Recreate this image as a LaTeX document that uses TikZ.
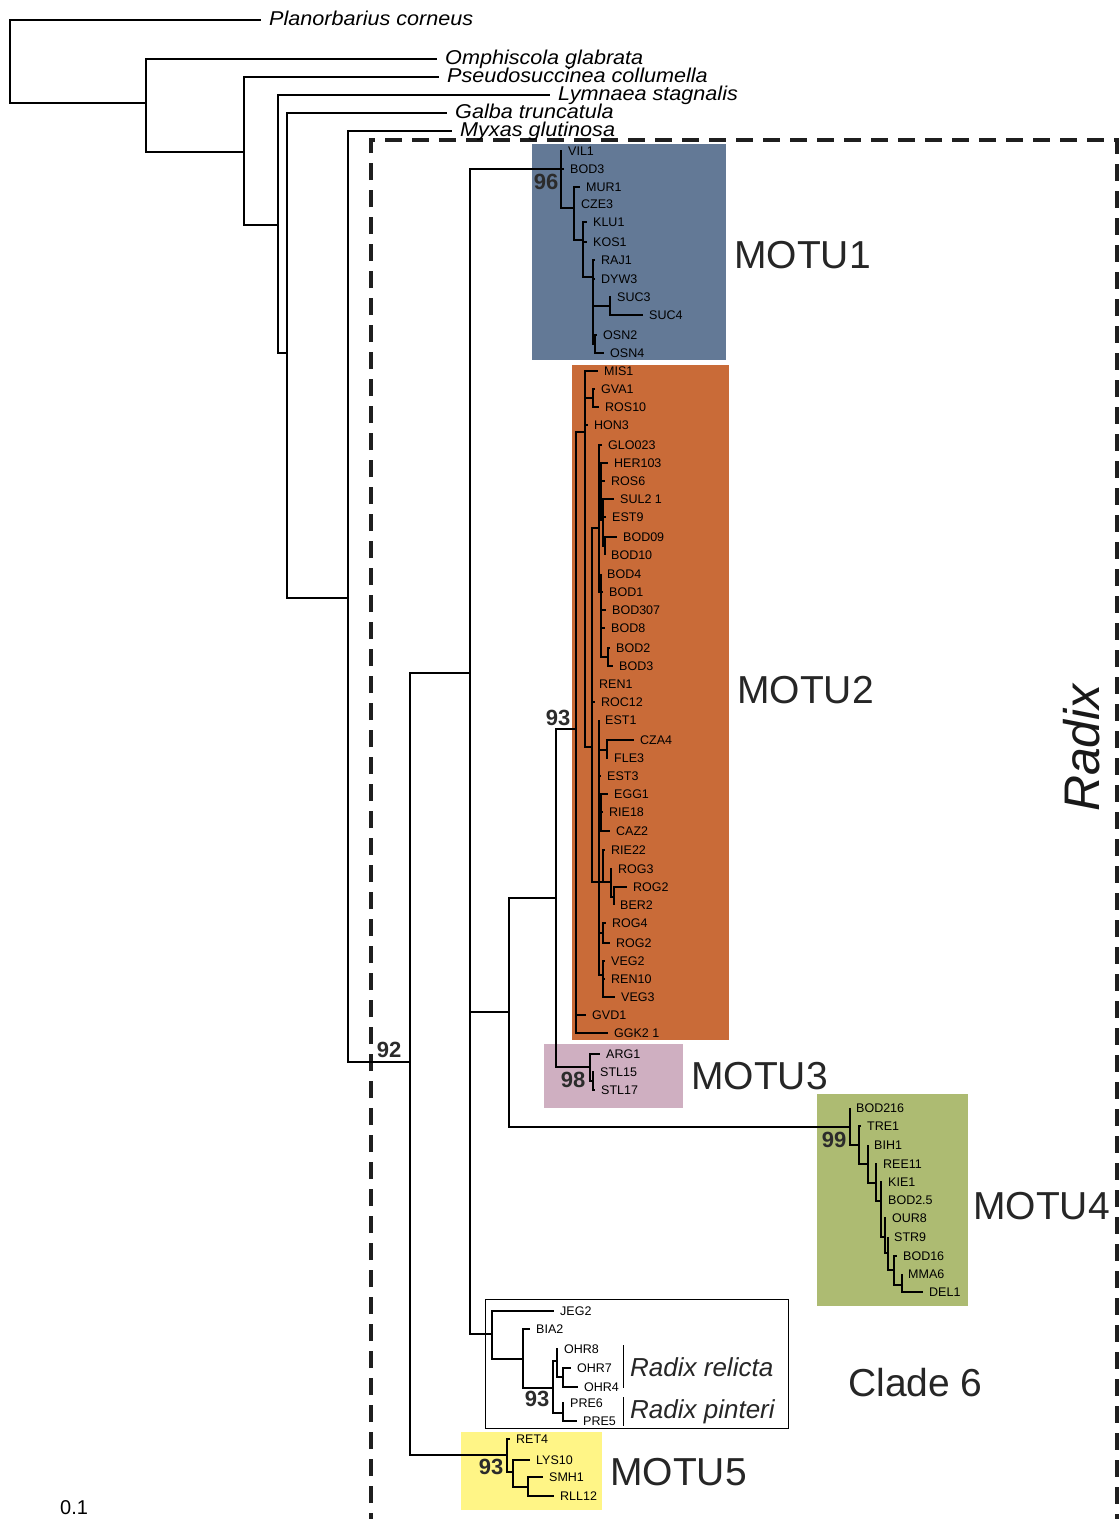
\documentclass[tikz,border=0pt]{standalone}
\usepackage{fontspec}
\setmainfont{Liberation Sans}
\newfontfamily\speciesfont[FakeStretch=1.08]{Liberation Sans}
\definecolor{motuone}{HTML}{637996}
\definecolor{motutwo}{HTML}{C96B38}
\definecolor{motuthree}{HTML}{CFAFC1}
\definecolor{motufour}{HTML}{ADBB72}
\definecolor{motufive}{HTML}{FFF586}
\definecolor{inkgrey}{HTML}{2B2B2B}
\begin{document}
\begin{tikzpicture}[
  x = 1pt, y = -1pt,
  every node/.style = {inner sep=0pt},
  tip/.style = {anchor=west, inner xsep=6pt, inner ysep=1pt, font=\fontsize{12.5}{14}\selectfont},
  species/.style = {tip, inner xsep=8pt, text height=14.5pt, text depth=4pt, font=\speciesfont\itshape\fontsize{20}{22}\selectfont},
  support/.style = {font=\bfseries\fontsize{22}{24}\selectfont, text=inkgrey},
  motu/.style = {anchor=west, font=\fontsize{39}{42}\selectfont, text=black!85},
  taxon/.style = {anchor=west, font=\itshape\fontsize{26}{28}\selectfont, text=black!85},
  branch/.style = {draw, line width=1.3pt},
]

\useasboundingbox (0,0) rectangle (1119,1519);

% coloured MOTU patches go first so the tree sits on top of them
\fill[motuone]   (532,144)  rectangle (726,360);
\fill[motutwo]   (572,365)  rectangle (729,1040);
\fill[motuthree] (544,1044) rectangle (683,1108);
\fill[motufour]  (817,1094) rectangle (968,1306);
\fill[motufive]  (461,1432) rectangle (602,1510);
\draw[line width=0.8pt] (485,1299) rectangle (788,1428);
\draw[line width=3.2pt, dash pattern=on 17pt off 10pt, black!88]
  (371,1530) |- (1117,140) -- (1117,1530);

% outgroups
\node[species] (planorb) at (261,20)  {Planorbarius corneus};
\node[species] (ompi)    at (437,59)  {Omphiscola glabrata};
\node[species] (pseudo)  at (439,77)  {Pseudosuccinea collumella};
\node[species] (lymn)    at (550,95)  {Lymnaea stagnalis};
\node[species] (galba)   at (447,113) {Galba truncatula};
\node[species] (myxas)   at (452,131) {Myxas glutinosa};

% tips, MOTU1 to MOTU5 and clade 6
\foreach \n/\x/\y/\t in {vil1/562/151/VIL1, bod3a/564/169/BOD3, mur1/580/187/MUR1,
    cze3/575/204/CZE3, klu1/587/222/KLU1, kos1/587/242/KOS1, raj1/595/260/RAJ1,
    dyw3/595/279/DYW3, suc3/611/297/SUC3, suc4/643/315/SUC4, osn2/597/335/OSN2,
    osn4/604/353/OSN4}
  \node[tip] (\n) at (\x,\y) {\t};

\foreach \n/\x/\y/\t in {mis1/598/371/MIS1, gva1/595/389/GVA1, ros10/599/407/ROS10,
    hon3/588/425/HON3, glo023/602/445/GLO023, her103/608/463/HER103, ros6/605/481/ROS6,
    sul21/614/499/SUL2 1, est9/606/517/EST9, bod09/617/537/BOD09, bod10/605/555/BOD10,
    bod4/601/574/BOD4, bod1/603/592/BOD1, bod307/606/610/BOD307, bod8/605/628/BOD8,
    bod2/610/648/BOD2, bod3b/613/666/BOD3, ren1/593/684/REN1, roc12/595/702/ROC12,
    est1/599/720/EST1, cza4/634/740/CZA4, fle3/608/758/FLE3, est3/601/776/EST3,
    egg1/608/794/EGG1, rie18/603/812/RIE18, caz2/610/831/CAZ2, rie22/605/850/RIE22,
    rog3/612/869/ROG3, rog2a/627/887/ROG2, ber2/614/905/BER2, rog4/606/923/ROG4,
    rog2b/610/943/ROG2, veg2/605/961/VEG2, ren10/605/979/REN10, veg3/615/997/VEG3,
    gvd1/586/1015/GVD1, ggk21/608/1033/GGK2 1}
  \node[tip] (\n) at (\x,\y) {\t};

\foreach \n/\x/\y/\t in {arg1/600/1054/ARG1, stl15/594/1072/STL15, stl17/595/1090/STL17,
    bod216/850/1108/BOD216, tre1/861/1126/TRE1, bih1/868/1145/BIH1, ree11/877/1164/REE11,
    kie1/882/1182/KIE1, bod25/882/1200/BOD2.5, our8/886/1218/OUR8, str9/888/1237/STR9,
    bod16/897/1256/BOD16, mma6/902/1274/MMA6, del1/923/1292/DEL1,
    jeg2/554/1311/JEG2, bia2/530/1329/BIA2, ohr8/558/1349/OHR8, ohr7/571/1368/OHR7,
    ohr4/578/1387/OHR4, pre6/564/1403/PRE6, pre5/577/1421/PRE5,
    ret4/510/1439/RET4, lys10/530/1460/LYS10, smh1/543/1477/SMH1, rll12/554/1496/RLL12}
  \node[tip] (\n) at (\x,\y) {\t};

% internal nodes: x is the node's depth, y is where its stem comes in
\foreach \n/\x/\y in {root/10/62, n1/146/103, n2/244/152, n3/278/225, n4/287/353,
    n5/348/598, n6/410/1062, n7/470/673, n8/509/1012, n9/556/898,
    m1/561/169, m1a/574/208, m1b/583/240, m1c/593/277, m1d/610/306, m1e/595/344,
    m2/576/729, m2a/585/432, m2gv/593/398, m2b/592/747, m2c/599/528, m2ca/601/510,
    m2cc/603/520, m2cd/605/546, m2cb/601/592, m2ce/608/657, m2d/599/882, m2e/607/750,
    m2f/601/813, m2g/603/882, m2ga/611/882, m2gb/614/897, m2h/603/933, m2i/603/975,
    m3/590/1067, m3a/593/1081,
    m4/850/1127, m4a/859/1145, m4b/868/1164, m4c/876/1183, m4d/881/1201,
    m4e/885/1237, m4f/888/1253, m4g/894/1270, m4h/902/1285,
    c6/492/1334, c6a/523/1359, c6b/553/1388, c6r/557/1361, c6r1/563/1377, c6p/563/1413,
    m5/507/1455, m5a/513/1472, m5b/528/1487}
  \coordinate (\n) at (\x,\y);

\foreach \parent/\child in {root/planorb, root/n1, n1/ompi, n1/n2, n2/pseudo, n2/n3,
    n3/lymn, n3/n4, n4/galba, n4/n5, n5/myxas, n5/n6, n6/n7, n6/m5,
    n7/m1, n7/n8, n7/c6, n8/n9, n8/m4, n9/m2, n9/m3}
  \draw[branch] (\parent) |- (\child);

\foreach \parent/\child in {m1/vil1, m1/bod3a, m1/m1a, m1a/mur1, m1a/cze3, m1a/m1b,
    m1b/klu1, m1b/kos1, m1b/m1c, m1c/raj1, m1c/dyw3, m1c/m1d, m1c/m1e,
    m1d/suc3, m1d/suc4, m1e/osn2, m1e/osn4}
  \draw[branch] (\parent) |- (\child);

\foreach \parent/\child in {m2/m2a, m2/gvd1, m2/ggk21, m2a/mis1, m2a/m2gv, m2a/hon3,
    m2a/m2b, m2gv/gva1, m2gv/ros10, m2b/m2c, m2b/ren1, m2b/roc12, m2b/m2d,
    m2c/glo023, m2c/m2ca, m2c/m2cb, m2ca/her103, m2ca/ros6, m2ca/m2cc,
    m2cc/sul21, m2cc/est9, m2cc/m2cd, m2cd/bod09, m2cd/bod10,
    m2cb/bod4, m2cb/bod1, m2cb/bod307, m2cb/bod8, m2cb/m2ce, m2ce/bod2, m2ce/bod3b,
    m2d/est1, m2d/m2e, m2d/est3, m2d/m2f, m2d/m2g, m2d/m2h, m2d/m2i,
    m2e/cza4, m2e/fle3, m2f/egg1, m2f/rie18, m2f/caz2, m2g/rie22, m2g/m2ga,
    m2ga/rog3, m2ga/m2gb, m2gb/rog2a, m2gb/ber2, m2h/rog4, m2h/rog2b,
    m2i/veg2, m2i/ren10, m2i/veg3}
  \draw[branch] (\parent) |- (\child);

\foreach \parent/\child in {m3/arg1, m3/m3a, m3a/stl15, m3a/stl17,
    m4/bod216, m4/m4a, m4a/tre1, m4a/m4b, m4b/bih1, m4b/m4c, m4c/ree11, m4c/m4d,
    m4d/kie1, m4d/bod25, m4d/m4e, m4e/our8, m4e/m4f, m4f/str9, m4f/m4g,
    m4g/bod16, m4g/m4h, m4h/mma6, m4h/del1,
    c6/jeg2, c6/c6a, c6a/bia2, c6a/c6b, c6b/c6r, c6b/c6p, c6r/ohr8, c6r/c6r1,
    c6r1/ohr7, c6r1/ohr4, c6p/pre6, c6p/pre5,
    m5/ret4, m5/m5a, m5a/lys10, m5a/m5b, m5b/smh1, m5b/rll12}
  \draw[branch] (\parent) |- (\child);

% bootstrap support
\node[support] (bs96)  at (546,182)  {96};
\node[support] (bs93a) at (558,718)  {93};
\node[support] (bs98)  at (573,1080) {98};
\node[support] (bs99)  at (834,1140) {99};
\node[support] (bs92)  at (389,1050) {92};
\node[support] (bs93b) at (537,1399) {93};
\node[support] (bs93c) at (491,1467) {93};

% group labels
\node[motu] (motu1) at (734,255)  {MOTU1};
\node[motu] (motu2) at (737,690)  {MOTU2};
\node[motu] (motu3) at (691,1076) {MOTU3};
\node[motu] (motu4) at (973,1206) {MOTU4};
\node[motu] (motu5) at (610,1472) {MOTU5};
\node[motu] (clade6) at (848,1383) {Clade 6};

\draw[line width=0.8pt] (623,1345) -- (623,1388);
\draw[line width=0.8pt] (623,1397) -- (623,1426);
\node[taxon] (relicta) at (630,1367) {Radix relicta};
\node[taxon] (pinteri) at (630,1412) {Radix pinteri};

\node[rotate=90, font=\itshape\fontsize{50}{55}\selectfont, text=black!90] (radix) at (1082,748) {Radix};
\node[anchor=west, font=\fontsize{20}{22}\selectfont] (scale) at (60,1508) {0.1};

\end{tikzpicture}
\end{document}
